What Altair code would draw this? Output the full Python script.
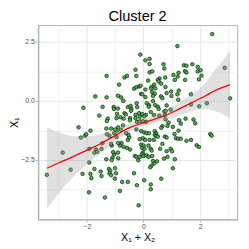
import altair as alt
import pandas as pd

# scatter points (X1 + X2, X1)
x_vals = [
    # upper left
    -1.30, -0.28, -0.67, -0.58, -0.25, -0.86, -0.33, -0.25, -0.15, -0.10, -1.70, -1.30, -0.90, -0.79, -0.71,
    -2.12, -1.44, -1.05, -1.04, -0.90, -0.55, -0.45, -0.42, -0.44, -0.24, -0.22, -0.93, -0.67, -0.62,
    -1.56, -1.26, -1.29, -0.95, -0.81, -0.70, -0.47, -0.48, -0.28, -0.28, -0.23,
    # upper right
    2.43, 1.20, -0.11, 0.07, 0.22, 0.22, 0.71, 0.74, 0.22, 0.31, 1.73, 1.43, 1.47, 1.52, 1.24, 1.06, 1.21,
    1.92, 2.02, 1.96, 2.05, 2.87, 0.57, 0.51, 0.54, 0.77, 0.17, 1.11, 1.47, 0.38, 0.29, 0.27, 0.42, 0.63,
    0.78, 0.07, 0.98, 1.25, 1.20, -0.08, -0.04, 0.31, 0.40, 0.34, 0.62, 0.67, 0.82, 0.99, 1.68, 0.07, 0.12,
    0.20, 0.19, 0.34, 0.42, 0.51, 0.82, 0.54, 1.23, 2.24, 3.06, 1.97, 1.68, 0.96, 0.74, 0.79, 0.26, 0.37,
    0.09, 0.03, -0.05, -0.16, -0.13, 0.76, 0.56, 1.49, 1.77, 1.83, 1.26, 1.32, 0.78, 0.89, 1.52, 1.92,
    # lower right
    -0.13, 0.09, -0.02, 0.67, 0.63, 0.85, 1.04, 1.24, -0.25, -0.08, 0.03, 0.11, 0.20, 0.40, 0.45, 0.40,
    0.45, 0.51, 1.10, 1.15, 1.23, 1.32, 0.76, 0.82, 1.52, 1.68, 2.36, 2.41, -0.13, -0.02, 0.06, 0.22, 0.37,
    0.67, -0.08, 0.01, -0.05, 0.04, 0.18, 0.26, 0.29, 0.59, 0.96, 1.01, 0.82, 1.88, 1.96, -0.30, -0.25,
    -0.13, -0.02, -0.05, 0.01, 0.11, 0.18, -0.18, 0.31, 0.34, 0.48, 0.37, 0.73, 0.85, 1.11, 0.29, 0.24,
    1.04, -0.33, 0.63, 0.03, -0.23, 0.26, 0.26, -0.17,
    # lower left
    -3.41, -2.85, -2.57, -2.29, -2.21, -2.06, -2.02, -1.87, -1.91, -1.73, -1.45, -1.48, -1.67, -1.63,
    -1.31, -1.14, -1.12, -1.31, -1.03, -1.07, -1.91, -1.73, -1.87, -2.15, -1.51, -1.22, -1.17, -1.20,
    -1.14, -1.00, -0.97, -1.01, -0.83, -0.75, -0.55, -1.92, -1.36, -1.48, -1.84, -1.09, -1.12, -0.90,
    -0.89, -0.77, -0.83, -0.70, -0.58, -0.55, -0.50, -0.53, -0.61, -0.47, -0.79, -0.72, -0.89, -0.94,
    -1.00, -1.20, -1.29, -1.03, -0.95, -1.14, -0.89,
]
y_vals = [
    1.06, 1.32, 0.99, 1.06, 1.06, 0.69, 0.52, 0.58, 0.61, 0.64, 0.19, 0.15, 0.22, 0.15, 0.00,
    -0.29, -0.25, -0.26, -0.34, -0.32, -0.26, -0.21, -0.34, -0.42, -0.10, -0.26, -0.55, -0.52, -0.57,
    -0.62, -0.75, -0.85, -0.73, -0.69, -0.75, -0.73, -0.82, -0.59, -0.73, -0.89,
    2.83, 2.32, 1.96, 1.72, 1.78, 1.56, 1.55, 1.37, 1.21, 1.25, 1.55, 1.51, 1.26, 1.20, 1.19, 1.10, 1.03,
    1.25, 1.30, 0.91, 1.07, 1.40, 0.95, 0.89, 0.82, 0.99, 0.86, 0.89, 0.89, 0.69, 0.59, 0.53, 0.53, 0.73,
    0.59, 0.48, 0.40, 0.44, 0.28, 0.30, 0.28, 0.37, 0.30, 0.21, 0.19, 0.12, 0.33, 0.21, 0.28, 0.16, -0.10,
    -0.18, -0.25, -0.01, -0.18, -0.25, -0.19, -0.34, 0.05, -0.10, 0.11, -0.23, -0.15, -0.37, -0.45, -0.42, -0.47, -0.60,
    -0.59, -0.65, -0.55, -0.52, -0.67, -0.59, -0.62, -0.75, -0.79, -0.95, -0.82, -0.96, -0.78, -0.92, 1.49, 1.44,
    -0.86, -0.89, -0.86, -1.07, -1.14, -1.06, -1.10, -1.26, -1.21, -1.28, -1.33, -1.37, -1.37, -1.28, -1.37, -1.44,
    -1.48, -1.51, -1.40, -1.58, -1.60, -1.60, -1.51, -1.55, -1.69, -1.65, -1.40, -1.47, -1.62, -1.58, -1.65, -1.65, -1.65,
    -1.82, -1.85, -1.89, -1.99, -2.03, -1.89, -2.03, -2.10, -2.03, -2.03, -2.13, -2.13, -1.88, -1.95, -2.33, -2.37,
    -2.37, -2.19, -2.26, -2.33, -2.30, -2.37, -2.51, -2.33, -2.54, -2.56, -2.65, -2.44, -2.37, -2.47, -2.74, -2.81,
    -2.85, -3.06, -3.29, -3.36, -3.57, -3.54, -3.74, -4.42,
    -3.13, -2.19, -2.91, -1.12, -1.55, -1.47, -1.41, -1.26, -2.03, -2.19, -1.79, -2.03, -2.06, -2.15,
    -1.17, -1.17, -1.89, -2.47, -2.26, -2.17, -2.61, -2.88, -3.09, -3.09, -2.99, -2.88, -2.95, -3.06,
    -3.14, -2.85, -3.06, -3.29, -3.81, -3.43, -3.43, -3.87, -4.09, -3.18, -3.27, -2.40, -2.50, -2.19,
    -2.43, -1.78, -1.89, -1.95, -1.99, -1.65, -1.54, -1.44, -1.37, -2.06, -1.23, -1.04, -1.12, -1.26,
    -1.21, -1.48, -1.41, -1.37, -1.53, -1.82, -1.78,
]

# smoother (fit and confidence band)
band_x = [-3.41, -3.0, -2.6, -2.2, -1.8, -1.48, -1.0, -0.47, 0.0, 0.4, 0.76, 1.2, 1.5, 1.88, 2.2, 2.5, 2.8, 3.06]
band_fit = [-2.85, -2.63, -2.42, -2.20, -1.98, -1.79, -1.47, -1.12, -0.93, -0.77, -0.62, -0.38, -0.20, 0.03, 0.22, 0.42, 0.57, 0.69]
band_lo = [-4.59, -3.93, -3.37, -2.90, -2.48, -2.19, -1.73, -1.29, -1.08, -0.93, -0.82, -0.64, -0.51, -0.37, -0.33, -0.43, -0.55, -0.73]
band_hi = [-1.11, -1.33, -1.47, -1.50, -1.48, -1.39, -1.21, -0.95, -0.78, -0.61, -0.42, -0.12, 0.11, 0.43, 0.77, 1.27, 1.69, 2.11]

x_ticks = [-3, -2, -1, 0, 1, 2, 3]
y_ticks = [-5, -3.75, -2.5, -1.25, 0, 1.25, 2.5]

n = min(len(x_vals), len(y_vals))
pts = pd.DataFrame({"x": x_vals[:n], "y": y_vals[:n]})
band = pd.DataFrame({"x": band_x, "fit": band_fit, "lo": band_lo, "hi": band_hi})

FONT = "Liberation Sans"

x_axis = alt.Axis(
    values=x_ticks,
    title="X₁ + X₂",
    labelExpr="abs(datum.value) % 2 == 0 ? datum.label : ''",
    tickOpacity={"condition": {"test": "abs(datum.value) % 2 == 0", "value": 1}, "value": 0},
    gridColor={"condition": {"test": "abs(datum.value) % 2 == 0", "value": "#E6E6E6"}, "value": "#F0F0F0"},
)
y_axis = alt.Axis(
    values=y_ticks,
    title="X₁",
    format=".1f",
    labelExpr="(abs(datum.value) % 2.5 == 0 && datum.value > -4) ? datum.label : ''",
    tickOpacity={"condition": {"test": "abs(datum.value) % 2.5 == 0 && datum.value > -4", "value": 1}, "value": 0},
    gridColor={"condition": {"test": "abs(datum.value) % 2.5 == 0", "value": "#E6E6E6"}, "value": "#F0F0F0"},
)
xs = alt.Scale(domain=[-3.72, 3.31], nice=False, zero=False)
ys = alt.Scale(domain=[-5.01, 3.21], nice=False, zero=False)

points = alt.Chart(pts).mark_circle(
    fill="#46B446", stroke="black", strokeWidth=0.6, size=14, opacity=1
).encode(
    x=alt.X("x:Q", scale=xs, axis=x_axis),
    y=alt.Y("y:Q", scale=ys, axis=y_axis),
)

ribbon = alt.Chart(band).mark_area(color="#999999", opacity=0.3, interpolate="monotone").encode(
    x=alt.X("x:Q", scale=xs, axis=x_axis),
    y=alt.Y("lo:Q", scale=ys, axis=y_axis),
    y2="hi:Q",
)

line = alt.Chart(band).mark_line(color="red", strokeWidth=1.3, interpolate="monotone").encode(
    x=alt.X("x:Q", scale=xs, axis=x_axis),
    y=alt.Y("fit:Q", scale=ys, axis=y_axis),
)

chart = alt.layer(points, ribbon, line).properties(
    width=205,
    height=200,
    title=alt.TitleParams("Cluster 2", fontSize=15, font=FONT, fontWeight="normal",
                          color="black", anchor="middle", offset=1),
    autosize=alt.AutoSizeParams(type="none"),
    padding={"left": 31, "top": 14, "right": 4, "bottom": 26},
).configure_view(
    stroke="#B3B3B3", strokeWidth=1
).configure_axis(
    labelFont=FONT, labelFontSize=7, labelColor="#4D4D4D",
    titleFont=FONT, titleFontSize=11, titleColor="black", titleFontWeight="normal",
    tickColor="#B3B3B3", tickSize=3, labelPadding=1,
    domainColor="#B3B3B3", domainWidth=1.5, gridWidth=1,
).configure_axisX(titlePadding=2).configure_axisY(titlePadding=1)

chart.save("out.html", embed_options={"renderer": "svg", "actions": False})
